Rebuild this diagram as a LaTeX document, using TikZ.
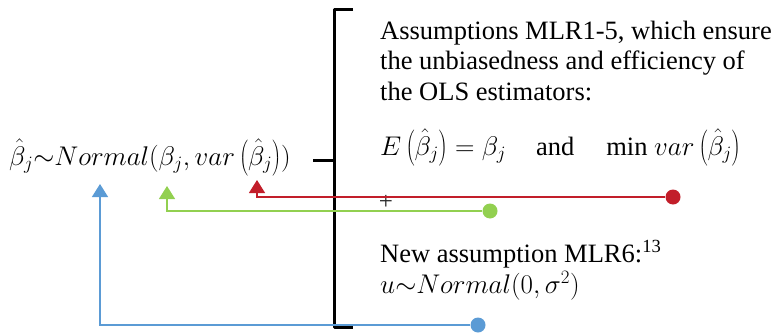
\RequirePackage{fix-cm}
\documentclass[tikz,border=0pt]{standalone}
\usepackage{fontspec}
\setmainfont{Liberation Serif}
\usetikzlibrary{arrows.meta}
\definecolor{redc}{RGB}{194,30,42}
\definecolor{greenc}{RGB}{146,208,80}
\definecolor{bluec}{RGB}{91,155,213}
\newcommand{\mathbig}[1]{{\fontsize{27}{30.5}\selectfont$#1$}}
\begin{document}
\begin{tikzpicture}[x=1pt,y=-1pt,
    txt/.style={inner sep=0pt, font=\fontsize{26.5}{30.5}\selectfont, align=left},
    dot/.style={circle, inner sep=0pt, minimum size=15pt},
    conn/.style={line width=1.3pt, -{Triangle[width=16pt,length=13pt]}}]
    \useasboundingbox (0,0) rectangle (776,332);

    % left: distribution of the estimator
    \node[txt, anchor=base west] (dist) at (9,165)
        {\mathbig{\hat\beta_j{\sim}Normal(\beta_j,var\left(\hat\beta_j\right))}};

    % the brace
    \draw[line width=3pt, line join=round] (353,9) -- (334,9) -- (334,327) -- (353,327);
    \draw[line width=3pt] (313,160) -- (334,160);

    % right: the assumptions
    \node[txt, anchor=base west] (mlr) at (380,100)
        {Assumptions MLR1-5, which ensure\\
         the unbiasedness and efficiency of\\
         the OLS estimators:};
    \node[txt, anchor=base west] (effic) at (380,155)
        {\mathbig{E\left(\hat\beta_j\right)=\beta_j}\hspace{30pt}and\hspace{32pt}min \mathbig{var\left(\hat\beta_j\right)}};
    \node[font=\fontsize{25}{25}\selectfont, text=black!85, inner sep=0pt] (plus) at (386,202) {+};
    \node[txt, anchor=base west] (mlrsix) at (380,293)
        {New assumption MLR6:\textsuperscript{13}\\
         \mathbig{u{\sim}Normal(0,\sigma^2)}};

    % dots and connectors
    \node[dot, fill=redc] (reddot) at (673,197) {};
    \node[dot, fill=greenc] (greendot) at (490,211) {};
    \node[dot, fill=bluec] (bluedot) at (478,325) {};
    \coordinate (redtip) at (257,180);
    \coordinate (greentip) at (167,186);
    \coordinate (bluetip) at (100,184);

    \draw[conn, redc] (reddot) -| (redtip);
    \draw[conn, greenc] (greendot) -| (greentip);
    \draw[conn, bluec] (bluedot) -| (bluetip);

\end{tikzpicture}
\end{document}
